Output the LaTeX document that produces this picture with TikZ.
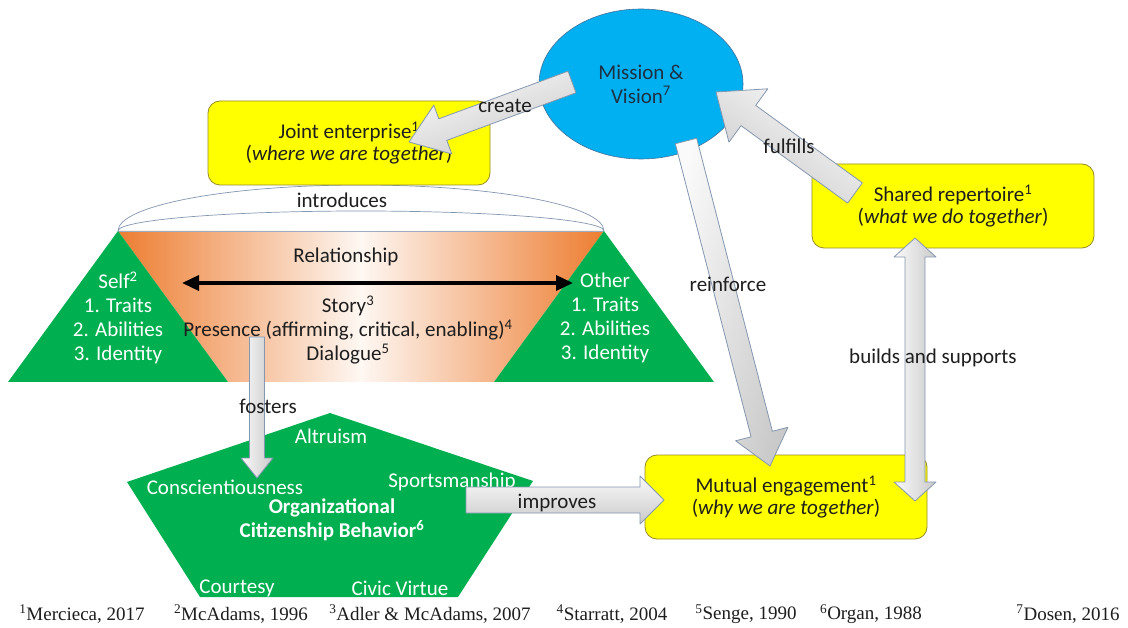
\documentclass[tikz,border=0pt]{standalone}
\usepackage{fontspec}
\setmainfont{Carlito}
\newfontfamily\refsfont{Liberation Serif}
\usetikzlibrary{calc,shapes.geometric,arrows.meta}
\definecolor{boxyellow}{RGB}{255,255,0}
\definecolor{boxedge}{RGB}{150,140,40}
\definecolor{ocbgreen}{RGB}{0,176,80}
\definecolor{misblue}{RGB}{0,176,240}
\definecolor{misedge}{RGB}{65,113,156}
\definecolor{misText}{RGB}{31,48,68}
\definecolor{arredge}{RGB}{132,151,176}
\definecolor{relorange}{RGB}{237,125,49}
\definecolor{txt}{RGB}{30,30,30}
\begin{document}
\begin{tikzpicture}[x=1pt, y=-1pt, line join=round, font=\fontsize{21}{24}\selectfont]
	\tikzset{
		box/.style={draw=boxedge, line width=.8pt, fill=boxyellow, rounded corners=12pt, minimum width=282pt, minimum height=84pt, align=center, text=txt, font=\fontsize{21}{22}\selectfont},
		wtxt/.style={text=white, align=center, inner sep=0pt},
		rtxt/.style={text=txt, align=center, inner sep=0pt},
		lbl/.style={text=txt, inner sep=0pt},
		blk/.style={draw=arredge, line width=.8pt, top color=gray!4, bottom color=gray!42},
	}
	% block arrow: tail, tip, shaft half width, head half width, head length, shading angle
	\def\blkarrow#1#2#3#4#5#6{
		\coordinate (blkh) at ($(#2)!#5!(#1)$);
		\path[blk, shading angle=#6] ($(#1)!#3!90:(#2)$) -- ($(blkh)!#3!-90:(#1)$) -- ($(blkh)!#4!-90:(#1)$) -- (#2)
			-- ($(blkh)!#4!90:(#1)$) -- ($(blkh)!#3!90:(#1)$) -- ($(#1)!#3!-90:(#2)$) -- cycle;
	}
	\def\dblarrow#1#2#3#4#5#6{
		\coordinate (blkh1) at ($(#1)!#5!(#2)$);
		\coordinate (blkh2) at ($(#2)!#5!(#1)$);
		\path[blk, shading angle=#6] (#1) -- ($(blkh1)!#4!90:(#2)$) -- ($(blkh1)!#3!90:(#2)$) -- ($(blkh2)!#3!-90:(#1)$)
			-- ($(blkh2)!#4!-90:(#1)$) -- (#2) -- ($(blkh2)!#4!90:(#1)$) -- ($(blkh2)!#3!90:(#1)$)
			-- ($(blkh1)!#3!-90:(#2)$) -- ($(blkh1)!#4!-90:(#2)$) -- cycle;
	}
	\fill[white] (0,0) rectangle (1128,628);
	\useasboundingbox (0,0) rectangle (1128,628);
	
	% relationship
	\shade[left color=relorange, right color=relorange, middle color=white!94!relorange] (118,231) -- (604,231) -- (494,382) -- (228,382) -- cycle;
	\draw[arredge!80, line width=.6pt] (118,231) -- (604,231);
	\filldraw[fill=white, draw=arredge, line width=.7pt] (118,231) arc[start angle=180, end angle=0, x radius=243pt, y radius=46pt]
		arc[start angle=0, end angle=180, x radius=243pt, y radius=20pt] -- cycle;
	\fill[ocbgreen] (118,231) -- (228,382) -- (8,382) -- cycle;
	\fill[ocbgreen] (604,231) -- (714,382) -- (494,382) -- cycle;
	\node[wtxt] (self) at (118,318) {Self\textsuperscript{2}\\1. Traits\\2. Abilities\\3. Identity};
	\node[wtxt] (other) at (605,318) {Other\\1. Traits\\2. Abilities\\3. Identity};
	\node[rtxt] (relship) at (346,257) {Relationship};
	\node[rtxt] (story) at (348,330) {Story\textsuperscript{3}\\Presence (affirming, critical, enabling)\textsuperscript{4}\\Dialogue\textsuperscript{5}};
	\coordinate (relL) at (182,283);
	\coordinate (relR) at (573,283);
	\draw[line width=3.5pt, {Triangle[length=17pt,width=15pt]}-{Triangle[length=17pt,width=15pt]}] (relL) -- (relR);
	
	% organizational citizenship behavior
	\fill[ocbgreen] (330,413) -- (533,481) -- (458,597) -- (200,597) -- (127,482) -- cycle;
	\node[wtxt] (altru) at (331,436) {Altruism};
	\node[wtxt] (consc) at (225,487) {Conscientiousness};
	\node[wtxt] (sport) at (452,482) {Sportsmanship};
	\node[wtxt, font=\fontsize{21}{24}\selectfont\bfseries] (ocb) at (332,520) {Organizational\\Citizenship Behavior\textsuperscript{6}};
	\node[wtxt] (court) at (237,588) {Courtesy};
	\node[wtxt] (civic) at (400,588) {Civic Virtue};
	
	% mission and boxes
	\node[ellipse, fill=misblue, draw=misedge, line width=.6pt, minimum width=204pt, minimum height=150pt, inner sep=0pt, align=center, text=misText] (mission) at (641,84) {Mission \&\\Vision\textsuperscript{7}};
	\node[box] (joint) at (349,143) {Joint enterprise\textsuperscript{1}\\(\textit{where we are together})};
	\node[box] (shared) at (953,206) {Shared repertoire\textsuperscript{1}\\(\textit{what we do together})};
	\node[box] (mutual) at (786,497) {Mutual engagement\textsuperscript{1}\\(\textit{why we are together})};
	
	% block arrows
	\coordinate (createA) at (572,82);
	\coordinate (createB) at (409,142);
	\coordinate (fulfA) at (855,193);
	\coordinate (fulfB) at (716,92);
	\coordinate (reinfA) at (686,141);
	\coordinate (reinfB) at (770,466);
	\coordinate (buildA) at (915,238);
	\coordinate (buildB) at (915,501);
	\coordinate (fostA) at (257,337);
	\coordinate (fostB) at (257,478);
	\coordinate (imprA) at (466,500);
	\coordinate (imprB) at (664,500);
	\blkarrow{createA}{createB}{11.5pt}{26pt}{36pt}{20}
	\blkarrow{fulfA}{fulfB}{12.5pt}{33pt}{40pt}{-35}
	\blkarrow{reinfA}{reinfB}{11pt}{27pt}{33pt}{75}
	\dblarrow{buildA}{buildB}{10pt}{21pt}{19pt}{90}
	\blkarrow{fostA}{fostB}{7.5pt}{16pt}{20pt}{90}
	\blkarrow{imprA}{imprB}{13pt}{24pt}{24pt}{0}
	
	% labels
	\node[lbl] (lcreate) at (505,106) {create};
	\node[lbl] (lfulf) at (789,146) {fulfills};
	\node[lbl] (lreinf) at (728,284) {reinforce};
	\node[lbl] (lbuild) at (933,358) {builds and supports};
	\node[lbl] (lfost) at (268,406) {fosters};
	\node[lbl] (limpr) at (557,503) {improves};
	\node[lbl] (lintro) at (342,200) {introduces};
	
	% references
	\foreach \x/\t [count=\i] in {82/{\textsuperscript{1}Mercieca, 2017}, 241/{\textsuperscript{2}McAdams, 1996},
		430/{\textsuperscript{3}Adler \& McAdams, 2007}, 612/{\textsuperscript{4}Starratt, 2004}, 746/{\textsuperscript{5}Senge, 1990},
		871/{\textsuperscript{6}Organ, 1988}, 1068/{\textsuperscript{7}Dosen, 2016}}
		\node[lbl, font=\refsfont\fontsize{19}{21}\selectfont] (ref\i) at (\x,614) {\t};
\end{tikzpicture}
\end{document}
